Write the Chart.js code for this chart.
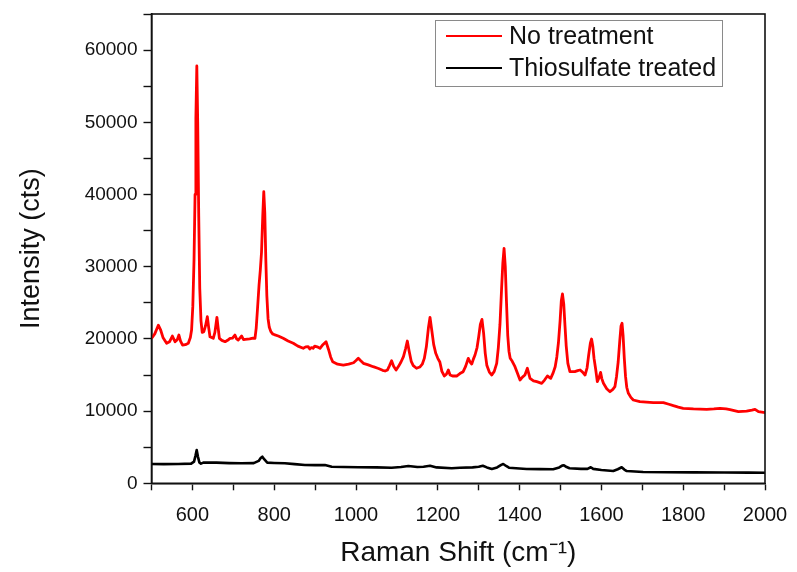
<!DOCTYPE html>
<html><head><meta charset="utf-8">
<script src="https://cdn.jsdelivr.net/npm/chart.js@4/dist/chart.umd.min.js"></script>
<style>html,body{margin:0;padding:0;background:#fff}</style>
</head><body>
<canvas id="c" width="797" height="572" style="display:block;width:797px;height:572px"></canvas>
<script>
const seriesNames = ['No treatment', 'Thiosulfate treated'];
const xTitle = 'Raman Shift (cm\u207B\u00B9)';
const yTitle = 'Intensity (cts)';

const shiftRed = [500,508,516.7,522,528,537,544,551,557.5,563,567,571,576,583,590,595,598,601,604,606.5,608.5,610.8,613,615.5,618,621,624,628,632,636.5,640,643,651,655,660,663,666,672,680,686,692,698,704,708,712,716,720.5,725,729,740,748,753,756,759,763,766,769,772,774.5,777,779.5,782,785,788,792,796,800,810,822,834,846.7,858,871,877,883,887,891,895,899,905,912,919,926.7,933,938,943,955,969,982,994,1000,1005.6,1011,1018,1030,1042,1055,1065,1071,1077,1082,1087,1092,1098,1104,1110,1116,1121,1125.5,1130,1135,1140,1148,1156,1162,1167,1172,1177,1181,1185,1190,1195,1200,1205,1210,1216,1221,1225.7,1230,1236,1246,1254,1262,1268,1274.6,1279,1283,1287,1291,1296,1300,1304,1308,1312,1316,1320,1326,1332,1338,1344,1348,1352,1356,1359,1362,1365,1368,1371,1374,1377,1382,1388.7,1395,1401,1407,1413,1419,1425.5,1434,1442,1454,1461,1468,1476,1482,1487,1491,1495,1499,1502,1504.8,1508,1511,1514,1518,1523,1535,1542,1548,1554,1560,1565,1569,1573,1576,1579,1582,1586,1590,1594,1598,1601,1605,1613,1621,1628,1633,1637,1641,1645,1648,1650.5,1653,1656,1659,1662,1666,1672,1678,1694,1710,1727,1751.6,1765,1776,1788,1800,1825,1857.5,1875,1890,1905,1914.5,1935,1955,1968,1975.6,1984,1992,2000];
const intensityRed = [20080,20700,21900,21300,20200,19390,19600,20400,19610,19900,20540,19700,19150,19200,19390,20200,21230,24500,31000,40000,50500,57800,50000,37000,27000,22500,20900,21000,21800,23080,21500,20300,20080,20900,22990,21500,20080,19800,19610,19800,20080,20100,20540,20000,19850,20100,20400,19900,19940,20000,20100,20080,21500,24000,27500,29500,32000,37000,40390,37500,31000,26000,22800,21600,21000,20700,20600,20400,20080,19700,19390,19000,18700,18900,18930,18600,18800,18700,19000,18900,18700,19200,19610,18500,17500,16840,16500,16380,16500,16700,17000,17310,17000,16620,16400,16150,15900,15650,15550,15700,16300,16980,16200,15690,16200,16800,17540,18600,19710,18300,16900,16300,15930,16100,16500,17300,18900,21500,22990,21300,19200,18000,17310,16800,15500,14860,15100,15690,15000,14860,14860,15200,15460,16200,17310,16800,16520,17200,17770,18800,20300,22000,22710,20800,18000,16300,15400,15000,15500,16620,18800,22000,27000,30500,32550,30000,25000,20500,18300,17310,16900,16150,15200,14310,14700,15000,15930,14540,14200,14080,13850,14300,14860,14540,15300,16150,17500,19500,22500,25300,26220,24800,21800,19000,16600,15460,15460,15600,15690,15400,15000,16000,17800,19400,19990,19000,17300,15800,14080,14600,15370,14500,13850,13100,12690,13000,13380,14800,16800,19800,21800,22160,20500,17300,14800,13300,12465,11900,11540,11300,11250,11165,11165,10950,10750,10550,10390,10300,10250,10300,10390,10300,10200,9920,10000,10150,10250,9920,9850,9780];

const shiftBlack = [500,530,565,597,604,607.5,610.5,613.5,617,621,626.6,659,690,720,750,762,767,771,776,783,800,826,850,875,900,924,940.6,970,1006,1050,1087,1110,1128,1150,1165,1181,1197,1234,1254,1285,1300,1310,1320,1332,1345,1355,1360,1367,1374,1417,1450,1482,1497,1504,1508.5,1515,1522,1550,1566,1574,1580,1600,1629,1640,1649.6,1656,1662,1702,1760,1825,1900,1960,2000];
const intensityBlack = [2670,2650,2670,2720,3000,3800,4610,3700,2900,2720,2860,2860,2800,2770,2800,3100,3500,3690,3300,2860,2820,2770,2650,2530,2520,2530,2300,2250,2220,2200,2160,2250,2400,2250,2300,2440,2200,2080,2160,2200,2300,2440,2200,1980,2200,2550,2670,2400,2160,1980,1960,1940,2200,2450,2490,2250,2080,2000,2000,2220,2000,1850,1700,1950,2220,1900,1700,1565,1540,1520,1490,1480,1470];

const xMin = 500, xMax = 2000, xStep = 100, xLabelStep = 200;
const yMin = 0, yMax = 65000, yStep = 5000, yLabelStep = 10000;

const toPoints = (xs, ys) => xs.map((x, i) => ({x, y: ys[i]}));
const FONT = "'Liberation Sans', Arial, sans-serif";

const framePlugin = {
  id: 'frame',
  afterDraw(chart) {
    const {ctx, chartArea: a} = chart;
    ctx.save();
    ctx.strokeStyle = '#111';
    ctx.lineWidth = 1.6;
    ctx.strokeRect(a.left, a.top, a.right - a.left, a.bottom - a.top);
    const lx = 435, ly = 20, lw = 287, lh = 66;
    ctx.strokeStyle = '#8a8a8a';
    ctx.lineWidth = 1;
    ctx.strokeRect(lx + 0.5, ly + 0.5, lw, lh);
    const colors = ['#ff0000', '#000000'];
    ctx.font = '25px ' + FONT;
    ctx.textBaseline = 'middle';
    ctx.fillStyle = '#111';
    seriesNames.forEach((n, i) => {
      const yy = ly + 16 + i * 32;
      ctx.strokeStyle = colors[i];
      ctx.lineWidth = 2.2;
      ctx.beginPath(); ctx.moveTo(446, yy); ctx.lineTo(502, yy); ctx.stroke();
      ctx.fillText(n, 509, yy + 1);
    });
    ctx.restore();
  }
};

new Chart(document.getElementById('c'), {
  type: 'line',
  data: {
    datasets: [
      {label: seriesNames[0], data: toPoints(shiftRed, intensityRed), borderColor: '#ff0000', borderWidth: 2.8, pointRadius: 0, tension: 0, fill: false, borderJoinStyle: 'round'},
      {label: seriesNames[1], data: toPoints(shiftBlack, intensityBlack), borderColor: '#000000', borderWidth: 2.6, pointRadius: 0, tension: 0, fill: false, borderJoinStyle: 'round'}
    ]
  },
  options: {
    responsive: false,
    animation: false,
    devicePixelRatio: 1,
    layout: {padding: {left: 0, right: 32, top: 14, bottom: 0}},
    plugins: {legend: {display: false}, tooltip: {enabled: false}},
    scales: {
      x: {
        type: 'linear', min: xMin, max: xMax,
        border: {display: true, color: '#111', width: 1.6},
        grid: {drawOnChartArea: false, drawTicks: true, tickLength: 7, color: '#111', tickWidth: 1.4},
        ticks: {stepSize: xStep, autoSkip: false, maxRotation: 0, padding: 13, color: '#111',
          font: {family: FONT, size: 20},
          callback: v => (v % xLabelStep === 0 && v !== xMin) ? String(v) : ''},
        title: {display: true, text: xTitle, color: '#111', font: {family: FONT, size: 28}, padding: {top: 0, bottom: 2}},
        afterFit: s => { s.height = 88.7; s.paddingRight = 0; s.paddingLeft = 0; }
      },
      y: {
        type: 'linear', min: yMin, max: yMax,
        border: {display: true, color: '#111', width: 1.6},
        grid: {drawOnChartArea: false, drawTicks: true, tickLength: 8, color: '#111', tickWidth: 1.4},
        ticks: {stepSize: yStep, autoSkip: false, padding: 6, color: '#111',
          font: {family: FONT, size: 19},
          callback: v => (v % yLabelStep === 0) ? String(v) : ''},
        title: {display: true, text: yTitle, color: '#111', font: {family: FONT, size: 27}, padding: {top: 15, bottom: 0}},
        afterFit: s => { s.width = 151.5; s.paddingTop = 0; s.paddingBottom = 0; }
      }
    }
  },
  plugins: [framePlugin]
});
</script>
</body></html>
